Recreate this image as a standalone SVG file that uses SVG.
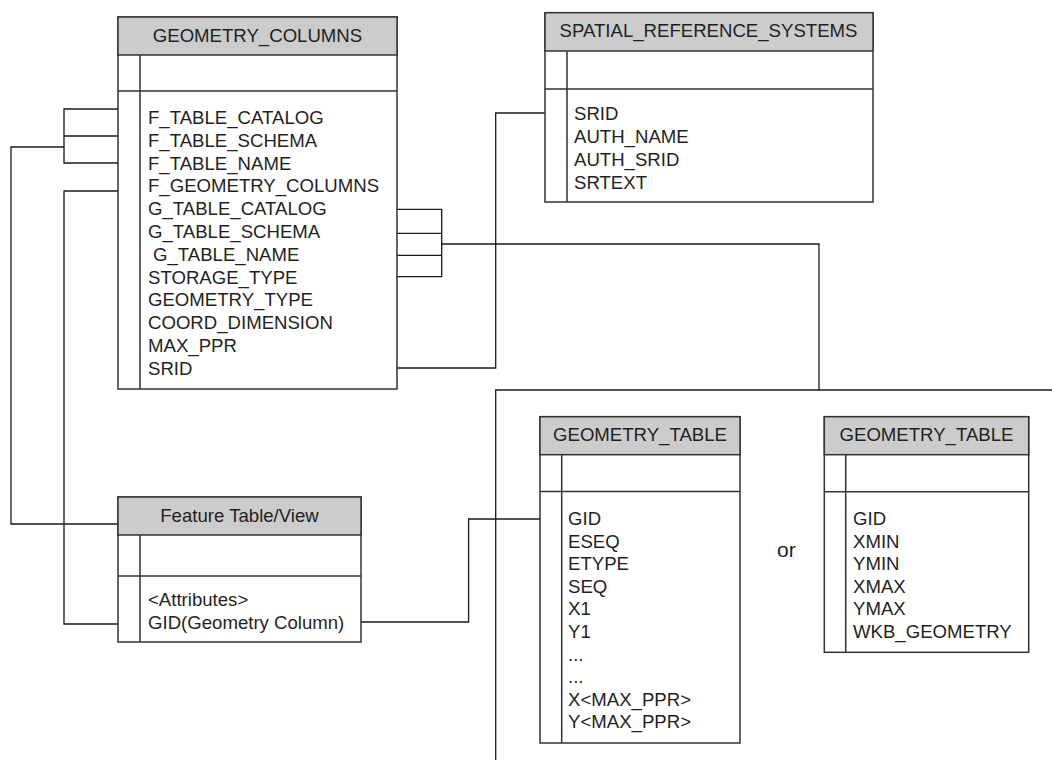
<svg xmlns="http://www.w3.org/2000/svg" width="1052" height="760" viewBox="0 0 1052 760">
<style>
.box{fill:#ffffff;stroke:#333333;stroke-width:1.5}
.hdr{fill:#cccccc;stroke:#333333;stroke-width:1.5}
.ln{fill:none;stroke:#333333;stroke-width:1.5}
.cn{fill:none;stroke:#1a1a1a;stroke-width:1.3}
text{font-family:"Liberation Sans",Arial,sans-serif;font-size:18.6px;fill:#1f1f1f}
.c{text-anchor:middle}
</style>
<rect width="1052" height="760" fill="#ffffff"/>
<g id="connectors">
<path class="cn" d="M118,109 H64 V163 H118 M64,136 H118 M64,147 H11 V524 H118"/>
<path class="cn" d="M118,191 H64 V624 H118"/>
<path class="cn" d="M397,209.3 H441.7 V276.7 H397 M397,233.3 H441.7 M397,255.3 H441.7 M441.7,244 H819 V390"/>
<path class="cn" d="M397,368 H495.7 V113 H545"/>
<path class="cn" d="M495.7,760 V390 H1052"/>
<path class="cn" d="M361,622 H468.6 V519 H540"/>
</g>
<g id="geometry_columns">
<rect class="box" x="118" y="17" width="279" height="372"/>
<rect class="hdr" x="118" y="17" width="279" height="38"/>
<path class="ln" d="M140,55 V389 M118,91 H397"/>
<text class="c" x="257.5" y="42">GEOMETRY_COLUMNS</text>
<text x="148" y="124">F_TABLE_CATALOG</text>
<text x="148" y="146.8">F_TABLE_SCHEMA</text>
<text x="148" y="169.6">F_TABLE_NAME</text>
<text x="148" y="192.4">F_GEOMETRY_COLUMNS</text>
<text x="148" y="215.2">G_TABLE_CATALOG</text>
<text x="148" y="238">G_TABLE_SCHEMA</text>
<text x="153" y="260.8">G_TABLE_NAME</text>
<text x="148" y="283.6">STORAGE_TYPE</text>
<text x="148" y="306.4">GEOMETRY_TYPE</text>
<text x="148" y="329.2">COORD_DIMENSION</text>
<text x="148" y="352">MAX_PPR</text>
<text x="148" y="374.8">SRID</text>
</g>
<g id="spatial_reference_systems">
<rect class="box" x="545" y="12.7" width="328" height="189.3"/>
<rect class="hdr" x="545" y="12.7" width="328" height="38.3"/>
<path class="ln" d="M567,51 V202 M545,89 H873"/>
<text class="c" x="708.5" y="36.7">SPATIAL_REFERENCE_SYSTEMS</text>
<text x="574" y="120">SRID</text>
<text x="574" y="143">AUTH_NAME</text>
<text x="574" y="166">AUTH_SRID</text>
<text x="574" y="189">SRTEXT</text>
</g>
<g id="feature_table">
<rect class="box" x="118" y="497" width="243" height="145"/>
<rect class="hdr" x="118" y="497" width="243" height="38"/>
<path class="ln" d="M140,535 V642 M118,576 H361"/>
<text class="c" x="239.5" y="522">Feature Table/View</text>
<text x="148" y="606">&lt;Attributes&gt;</text>
<text x="148" y="629">GID(Geometry Column)</text>
</g>
<g id="geometry_table_1">
<rect class="box" x="540" y="416.7" width="200" height="326.3"/>
<rect class="hdr" x="540" y="416.7" width="200" height="38"/>
<path class="ln" d="M561.7,454.7 V743 M540,491.5 H740"/>
<text class="c" x="640" y="441">GEOMETRY_TABLE</text>
<text x="568" y="525">GID</text>
<text x="568" y="547.6">ESEQ</text>
<text x="568" y="570.2">ETYPE</text>
<text x="568" y="592.8">SEQ</text>
<text x="568" y="615.4">X1</text>
<text x="568" y="638">Y1</text>
<text x="568" y="660.6">...</text>
<text x="568" y="683.2">...</text>
<text x="568" y="705.8">X&lt;MAX_PPR&gt;</text>
<text x="568" y="728.4">Y&lt;MAX_PPR&gt;</text>
</g>
<g id="or_label">
<text x="777" y="557.3" style="font-size:21px">or</text>
</g>
<g id="geometry_table_2">
<rect class="box" x="824.3" y="416.7" width="204.4" height="235.6"/>
<rect class="hdr" x="824.3" y="416.7" width="204.4" height="38"/>
<path class="ln" d="M845.7,454.7 V652.3 M824.3,491.7 H1028.7"/>
<text class="c" x="926.5" y="441">GEOMETRY_TABLE</text>
<text x="853" y="525">GID</text>
<text x="853" y="547.6">XMIN</text>
<text x="853" y="570.2">YMIN</text>
<text x="853" y="592.8">XMAX</text>
<text x="853" y="615.4">YMAX</text>
<text x="853" y="638">WKB_GEOMETRY</text>
</g>
</svg>
